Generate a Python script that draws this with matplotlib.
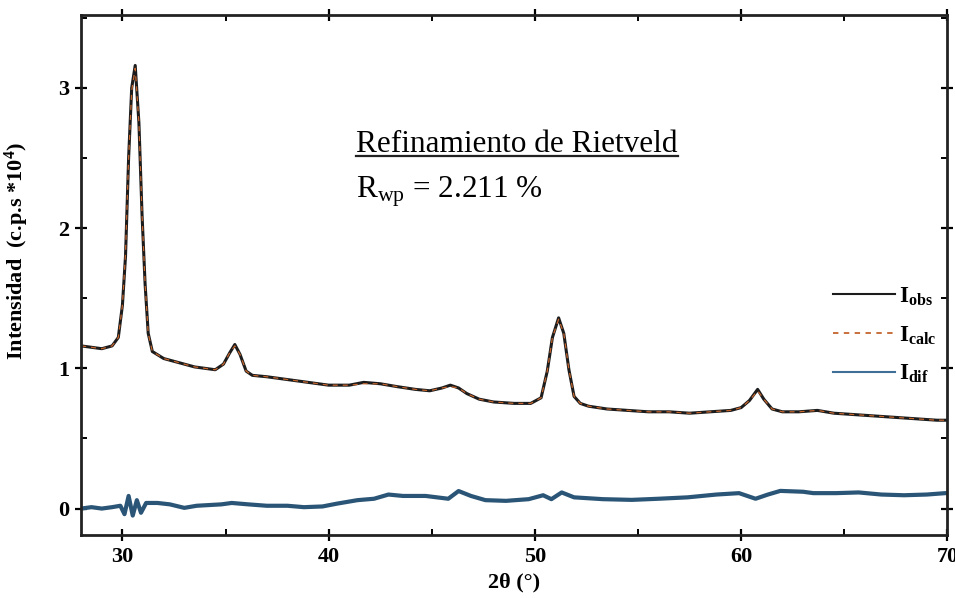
import matplotlib
matplotlib.use("Agg")
import matplotlib.pyplot as plt
from matplotlib.lines import Line2D
from matplotlib.ticker import MultipleLocator

plt.rcParams['font.family'] = ['Liberation Serif', 'DejaVu Serif']
plt.rcParams['mathtext.fontset'] = 'custom'
plt.rcParams['mathtext.rm'] = 'Liberation Serif'
plt.rcParams['mathtext.it'] = 'Liberation Serif:italic'
plt.rcParams['mathtext.bf'] = 'Liberation Serif:bold'

# ---- data ----
two_theta = [28.0, 28.5, 29.0, 29.5, 29.8, 30.0, 30.15, 30.3, 30.45, 30.62, 30.8, 30.95,
             31.1, 31.25, 31.45, 32.0, 32.5, 33.0, 33.5, 34.0, 34.5, 34.9, 35.2, 35.45,
             35.7, 36.0, 36.3, 37.0, 38.0, 39.0, 40.0, 41.0, 41.7, 42.5, 43.3, 44.2,
             44.9, 45.5, 45.9, 46.3, 46.7, 47.3, 48.0, 49.0, 49.8, 50.3, 50.6, 50.85,
             51.15, 51.4, 51.65, 51.9, 52.2, 52.6, 53.5, 54.5, 55.5, 56.5, 57.5, 58.5,
             59.5, 60.0, 60.4, 60.8, 61.1, 61.5, 62.0, 62.8, 63.7, 64.5, 65.5, 66.5,
             67.5, 68.5, 69.5, 70.0]
i_obs = [1.16, 1.15, 1.14, 1.16, 1.22, 1.45, 1.80, 2.50, 3.00, 3.16, 2.75, 2.10,
         1.60, 1.25, 1.12, 1.07, 1.05, 1.03, 1.01, 1.00, 0.99, 1.03, 1.11, 1.17,
         1.10, 0.98, 0.95, 0.94, 0.92, 0.90, 0.88, 0.88, 0.90, 0.89, 0.87, 0.85,
         0.84, 0.86, 0.88, 0.86, 0.82, 0.78, 0.76, 0.75, 0.75, 0.79, 0.98, 1.22,
         1.36, 1.25, 0.99, 0.80, 0.75, 0.73, 0.71, 0.70, 0.69, 0.69, 0.68, 0.69,
         0.70, 0.72, 0.77, 0.85, 0.78, 0.71, 0.69, 0.69, 0.70, 0.68, 0.67, 0.66,
         0.65, 0.64, 0.63, 0.63]
i_calc = [1.16, 1.15, 1.14, 1.16, 1.22, 1.45, 1.82, 2.50, 2.98, 3.14, 2.75, 2.10,
          1.60, 1.25, 1.12, 1.07, 1.05, 1.03, 1.01, 1.00, 0.99, 1.03, 1.11, 1.16,
          1.10, 0.98, 0.95, 0.94, 0.92, 0.90, 0.88, 0.88, 0.89, 0.89, 0.87, 0.85,
          0.84, 0.86, 0.87, 0.86, 0.82, 0.78, 0.76, 0.75, 0.75, 0.79, 0.98, 1.22,
          1.35, 1.25, 0.99, 0.80, 0.75, 0.73, 0.71, 0.70, 0.69, 0.69, 0.68, 0.69,
          0.70, 0.72, 0.77, 0.84, 0.78, 0.71, 0.69, 0.69, 0.70, 0.68, 0.67, 0.66,
          0.65, 0.64, 0.63, 0.63]

dif_theta = [28.0, 28.5, 29.0, 29.5, 29.9, 30.1, 30.3, 30.5, 30.7, 30.9, 31.15, 31.7,
             32.3, 33.0, 33.6, 34.2, 34.8, 35.3, 36.1, 37.0, 38.0, 38.8, 39.7, 40.4,
             41.4, 42.2, 42.9, 43.6, 44.7, 45.8, 46.3, 46.9, 47.6, 48.6, 49.7, 50.4,
             50.8, 51.3, 51.9, 53.3, 54.7, 56.0, 57.4, 58.8, 59.9, 60.7, 61.3, 61.9,
             63.0, 63.5, 64.6, 65.7, 66.8, 67.9, 69.0, 69.9, 70.0]
i_dif = [0.0, 0.01, 0.0, 0.01, 0.02, -0.04, 0.09, -0.05, 0.06, -0.03, 0.04, 0.04,
         0.03, 0.005, 0.02, 0.025, 0.03, 0.04, 0.03, 0.02, 0.02, 0.01, 0.015, 0.035,
         0.06, 0.07, 0.10, 0.09, 0.09, 0.07, 0.125, 0.09, 0.06, 0.055, 0.067, 0.095,
         0.067, 0.115, 0.08, 0.067, 0.062, 0.07, 0.08, 0.10, 0.11, 0.07, 0.10, 0.126,
         0.12, 0.11, 0.11, 0.115, 0.10, 0.095, 0.10, 0.11, 0.11]

x_ticks = [30, 40, 50, 60, 70]
y_ticks = [0, 1, 2, 3]
labels = [r'I$_{\mathbf{obs}}$', r'I$_{\mathbf{calc}}$', r'I$_{\mathbf{dif}}$']

# ---- figure ----
fig = plt.figure(figsize=(9.55, 5.98), dpi=100)
ax = fig.add_axes([0.085, 0.105, 0.907, 0.870])

ax.plot(dif_theta, i_dif, color='#2b5576', lw=3.0, solid_capstyle='butt')
ax.plot(two_theta, i_obs, color='#1c1c1c', lw=2.2)
ax.plot(two_theta, i_calc, color='#c4652e', lw=0.9, ls=(0, (4, 4)))

ax.set_xlim(28, 70)
ax.set_ylim(-0.19, 3.52)
ax.set_xticks(x_ticks)
ax.set_yticks(y_ticks)
ax.xaxis.set_minor_locator(MultipleLocator(5))
ax.yaxis.set_minor_locator(MultipleLocator(0.5))
ax.tick_params(which='major', direction='inout', length=9, width=1.6,
               top=True, right=True, labelsize=16, pad=4)
ax.tick_params(which='minor', direction='in', length=4, width=1.4, top=True, right=True)
for lab in ax.get_xticklabels() + ax.get_yticklabels():
    lab.set_fontweight('bold')
for s in ax.spines.values():
    s.set_linewidth(2.0)
    s.set_color('#222222')

ax.set_xlabel('2θ (°)', fontsize=16, fontweight='bold', labelpad=4)
ax.set_ylabel('Intensidad  (c.p.s *10$^{\\mathbf{4}}$)', fontsize=16, fontweight='bold')
ax.yaxis.set_label_coords(-0.058, 0.546)

t1 = ax.text(41.35, 2.54, 'Refinamiento de Rietveld', fontsize=22.5, va='baseline', ha='left')
ax.text(41.35, 2.22, r'R$_{\mathrm{wp}}$ = 2.211 %', fontsize=22.5, va='baseline', ha='left')

handles = [Line2D([], [], color='#1c1c1c', lw=1.5),
           Line2D([], [], color='#c4652e', lw=1.3, ls=(0, (3, 3))),
           Line2D([], [], color='#3f6f96', lw=1.5)]
leg = ax.legend(handles, labels, loc='upper left', bbox_to_anchor=(0.868, 0.48),
                frameon=False, fontsize=16.5, handlelength=2.7, handletextpad=0.2,
                labelspacing=0.72, borderpad=0, borderaxespad=0)
for txt in leg.get_texts():
    txt.set_fontweight('bold')

# underline the title text
fig.canvas.draw()
bb = t1.get_window_extent()
W, H = fig.canvas.get_width_height()
yline = (bb.y0 + 3) / H
fig.add_artist(Line2D([bb.x0 / W, bb.x1 / W], [yline, yline], color='#222222', lw=1.6))

fig.savefig('out.png', dpi=100, facecolor='white')
